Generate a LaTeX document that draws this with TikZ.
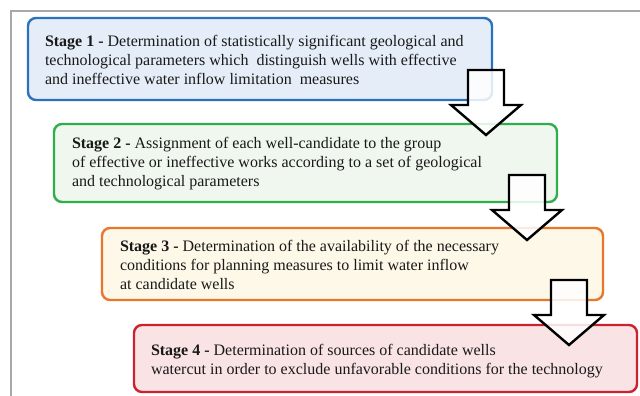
\documentclass[tikz,border=0pt]{standalone}
\usepackage{fontspec}
\setmainfont{Liberation Serif}
\begin{document}
\begin{tikzpicture}[x=1pt,y=-1pt,
  stagebox/.style={draw, rounded corners=8pt, line width=2.4pt, inner sep=0pt, outer sep=0pt, anchor=north west},
  stagetext/.style={anchor=north west, inner sep=0pt, outer sep=0pt, align=left, text=black!90,
     font=\fontsize{16}{19.4}\selectfont},
  blockdown/.pic={
    \draw[line width=2.4pt, fill=white, fill opacity=0.85, line join=miter]
      (-18,0) -- (18,0) -- (18,35) -- (35,35) -- (0,65) -- (-35,35) -- (-18,35) -- cycle;
  }]
\definecolor{b1}{HTML}{2A72BC}\definecolor{f1}{HTML}{E5EEF8}
\definecolor{b2}{HTML}{2FAE4A}\definecolor{f2}{HTML}{F0F7EE}
\definecolor{b3}{HTML}{E9772B}\definecolor{f3}{HTML}{FDF8E8}
\definecolor{b4}{HTML}{CC2230}\definecolor{f4}{HTML}{F9E3E5}
\definecolor{frame}{HTML}{A8A8A8}
\useasboundingbox (0,0) rectangle (640,396);
\clip (0,0) rectangle (640,396);
\fill[white] (0,0) rectangle (640,396);
\draw[frame, line width=1.5pt] (11,400) -- (11,11) -- (645,11);

\node[stagebox, draw=b1, fill=f1, minimum width=464pt, minimum height=82pt] (s1) at (28,18) {};
\node[stagebox, draw=b2, fill=f2, minimum width=503pt, minimum height=78pt] (s2) at (54,124) {};
\node[stagebox, draw=b3, fill=f3, minimum width=501pt, minimum height=72pt] (s3) at (102,228) {};
\node[stagebox, draw=b4, fill=f4, minimum width=503pt, minimum height=67pt] (s4) at (134,325) {};

\node[stagetext] (t1) at (45,34.8) {\textbf{Stage 1 -} Determination of statistically significant geological and\\
technological parameters which\ \ distinguish wells with effective\\
and ineffective water inflow limitation\ \ measures};
\node[stagetext] (t2) at (72,136.8) {\textbf{Stage 2 -} Assignment of each well-candidate to the group\\
of effective or ineffective works according to a set of geological\\
and technological parameters};
\node[stagetext] (t3) at (120,239.8) {\textbf{Stage 3 -} Determination of the availability of the necessary\\
conditions for planning measures to limit water inflow\\
at candidate wells};
\node[stagetext] (t4) at (151,343.8) {\textbf{Stage 4 -} Determination of sources of candidate wells\\
watercut in order to exclude unfavorable conditions for the technology};

\pic (a1) at (486,70) {blockdown};
\pic (a2) at (527,175) {blockdown};
\pic (a3) at (569,280) {blockdown};
\end{tikzpicture}
\end{document}
